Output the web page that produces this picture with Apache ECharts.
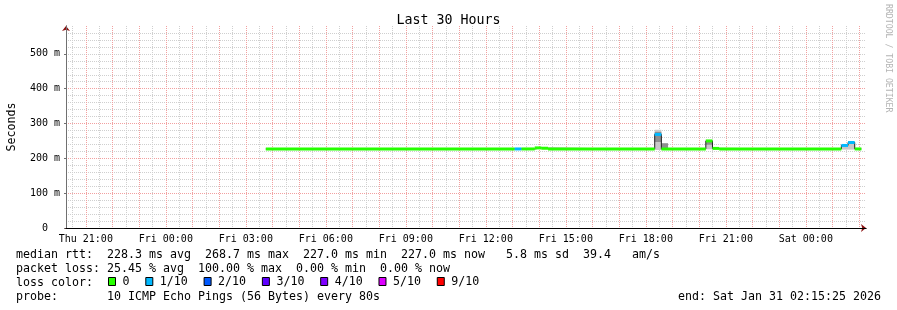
<!DOCTYPE html>
<html>
<head>
<meta charset="utf-8">
<script src="https://cdn.jsdelivr.net/npm/echarts@6/dist/echarts.min.js"></script>
<style>
html,body{margin:0;padding:0;background:#ffffff;}
#chart{width:897px;height:310px;}
</style>
</head>
<body>
<div id="chart"></div>
<script>
// ---- DATA (x values are hours since Thu 00:00) ----
const xStart = 20.2569;   // Thu 20:15:25
const xEnd = 50.2569;     // Sat 02:15:25
const xLabelHours = [21, 24, 27, 30, 33, 36, 39, 42, 45, 48];
const xLabelTexts = ['Thu 21:00', 'Fri 00:00', 'Fri 03:00', 'Fri 06:00', 'Fri 09:00',
                     'Fri 12:00', 'Fri 15:00', 'Fri 18:00', 'Fri 21:00', 'Sat 00:00'];
const xMajorHours = [21, 22, 23, 24, 25, 26, 27, 28, 29, 30, 31, 32, 33, 34, 35, 36, 37, 38, 39,
                     40, 41, 42, 43, 44, 45, 46, 47, 48, 49, 50];
const xMinorHours = [20.5, 21.5, 22.5, 23.5, 24.5, 25.5, 26.5, 27.5, 28.5, 29.5, 30.5, 31.5, 32.5,
                     33.5, 34.5, 35.5, 36.5, 37.5, 38.5, 39.5, 40.5, 41.5, 42.5, 43.5, 44.5, 45.5,
                     46.5, 47.5, 48.5, 49.5];
const yTickValues = [0, 100, 200, 300, 400, 500];
const yTickLabels = ['0  ', '100 m', '200 m', '300 m', '400 m', '500 m'];
const yMax = 580;

// median rtt (ms) per run of equal values, with loss class index
const runStart  = [27.75, 37.0833, 37.3333, 37.8333, 38.0833, 38.3333, 42.3333, 42.5833, 44.25, 44.5, 44.75, 49.3333, 49.5833, 49.8333];
const runEnd    = [37.0833, 37.3333, 37.8333, 38.0833, 38.3333, 42.3333, 42.5833, 44.25, 44.5, 44.75, 49.3333, 49.5833, 49.8333, 50.0833];
const runMedian = [227.0, 227.0, 227.0, 230.0, 229.0, 227.0, 268.7, 227.0, 250.0, 228.5, 227.0, 237.0, 245.5, 227.0];
const runLoss   = [0, 1, 0, 0, 0, 0, 1, 0, 0, 0, 0, 1, 1, 0];

// smoke (spread of the individual pings, ms)
const smokeOuterStart = [42.3333, 42.5833, 44.25, 49.3333, 49.5833];
const smokeOuterEnd   = [42.5833, 42.8333, 44.5, 49.5833, 49.8333];
const smokeOuterLo    = [224, 224, 226, 225, 225];
const smokeOuterHi    = [282, 244, 252, 240, 247];
const smokeInnerStart = [42.3333, 42.5833, 44.25];
const smokeInnerEnd   = [42.5833, 42.8333, 44.5];
const smokeInnerLo    = [247, 227, 239];
const smokeInnerHi    = [276, 243, 250];

const lossNames = ['0', '1/10', '2/10', '3/10', '4/10', '5/10', '9/10'];
const lossColors = ['#26ff00', '#00b8ff', '#0059ff', '#5e00ff', '#7e00ff', '#dd00ff', '#ff0000'];

const statsLines = [
  'median rtt:  228.3 ms avg  268.7 ms max  227.0 ms min  227.0 ms now   5.8 ms sd  39.4   am/s',
  'packet loss: 25.45 % avg  100.00 % max  0.00 % min  0.00 % now',
  'loss color:',
  'probe:       10 ICMP Echo Pings (56 Bytes) every 80s'
];
const endText = 'end: Sat Jan 31 02:15:25 2026';
const titleText = 'Last 30 Hours';
const watermark = 'RRDTOOL / TOBI OETIKER';

// ---- CHART ----
const MONO = '"DejaVu Sans Mono", monospace';
const TXT = 11.63;

const smokeOuter = smokeOuterStart.map((s, i) => [s, smokeOuterEnd[i], smokeOuterLo[i], smokeOuterHi[i]]);
const smokeInner = smokeInnerStart.map((s, i) => [s, smokeInnerEnd[i], smokeInnerLo[i], smokeInnerHi[i]]);
const medianLine = runStart.map((s, i) => [s, runMedian[i]]);
medianLine.push([runEnd[runEnd.length - 1], runMedian[runMedian.length - 1]]);

function smokeRender(params, api) {
  const p1 = api.coord([api.value(0), api.value(3)]);
  const p2 = api.coord([api.value(1), api.value(2)]);
  return {
    type: 'rect',
    shape: { x: p1[0], y: p1[1], width: p2[0] - p1[0], height: p2[1] - p1[1] },
    style: { fill: api.visual('color') }
  };
}
function lossRender(params, api) {
  const p1 = api.coord([api.value(0), api.value(2)]);
  const p2 = api.coord([api.value(1), api.value(2)]);
  return {
    type: 'line',
    shape: { x1: p1[0], y1: p1[1], x2: p2[0], y2: p2[1] },
    style: { stroke: api.visual('color'), lineWidth: 3, lineCap: 'butt' }
  };
}
// vertical grid line through the x scale, snapped to a pixel column
function vGridRender(params, api) {
  const cs = params.coordSys;
  const x = Math.round(api.coord([api.value(0), 0])[0]) + 0.5;
  return {
    type: 'line',
    shape: { x1: x, y1: cs.y, x2: x, y2: cs.y + cs.height },
    style: { stroke: api.visual('color'), lineWidth: 1, lineDash: [1, 1] }
  };
}

const series = [
  { type: 'custom', name: 'gridMinor', data: xMinorHours.map(h => [h]), renderItem: vGridRender,
    encode: { x: 0 }, itemStyle: { color: '#cfcfcf' }, z: 1, silent: true },
  { type: 'custom', name: 'gridMajor', data: xMajorHours.map(h => [h]), renderItem: vGridRender,
    encode: { x: 0 }, itemStyle: { color: '#f2a0a0' }, z: 1, silent: true },
  { type: 'custom', name: 'smoke', data: smokeOuter, renderItem: smokeRender, encode: { x: [0, 1], y: [2, 3] },
    itemStyle: { color: '#c8c8c8' }, z: 3, silent: true },
  { type: 'custom', name: 'smoke2', data: smokeInner, renderItem: smokeRender, encode: { x: [0, 1], y: [2, 3] },
    itemStyle: { color: '#8e8e8e' }, z: 3, silent: true },
  { type: 'line', name: 'median', data: medianLine, step: 'end', showSymbol: false, symbol: 'none',
    lineStyle: { color: '#202020', width: 1 }, z: 4, silent: true }
];
lossNames.forEach((name, k) => {
  const d = [];
  runStart.forEach((s, i) => { if (runLoss[i] === k) d.push([s, runEnd[i], runMedian[i]]); });
  series.push({
    type: 'custom', name: name, data: d, renderItem: lossRender, encode: { x: [0, 1], y: 2 },
    itemStyle: { color: lossColors[k], borderColor: '#000', borderWidth: 1 }, z: 5, silent: true
  });
});

const graphics = [];
const lineY = [254.8, 268.8, 282.8, 296.7];
statsLines.forEach((t, i) => {
  graphics.push({ type: 'text', x: 16, y: lineY[i], silent: true,
    style: { text: t, font: TXT + 'px ' + MONO, fill: '#000', align: 'left', verticalAlign: 'middle' } });
});
graphics.push({ type: 'text', x: 881, y: lineY[3], silent: true,
  style: { text: endText, font: TXT + 'px ' + MONO, fill: '#000', align: 'right', verticalAlign: 'middle' } });
graphics.push({ type: 'text', x: 888, y: 4, rotation: -Math.PI / 2, silent: true,
  style: { text: watermark, font: '8.2px ' + MONO, fill: '#b4b4b4', align: 'left', verticalAlign: 'middle' } });

const gridLineRed = { color: '#f2a0a0', type: 'dotted', width: 1 };
const gridLineGrey = { color: '#cfcfcf', type: 'dotted', width: 1 };

const option = {
  animation: false,
  backgroundColor: '#ffffff',
  title: {
    text: titleText, left: 'center', top: 14, padding: 0,
    textStyle: { fontFamily: MONO, fontSize: 13.3, fontWeight: 'normal', color: '#000' }
  },
  legend: {
    data: lossNames, left: 108, top: 275.5, padding: 0, icon: 'rect',
    itemWidth: 7, itemHeight: 8, itemGap: 15.8, selectedMode: false,
    itemStyle: { borderColor: '#000', borderWidth: 1 },
    textStyle: { fontFamily: MONO, fontSize: TXT, color: '#000', padding: [0, 0, 0, 2] }
  },
  grid: { left: 66, right: 31, top: 26, bottom: 82, containLabel: false, outerBoundsMode: 'none' },
  xAxis: [
    {
      type: 'value', min: xStart, max: xEnd, position: 'bottom', z: 6,
      axisLine: { show: true, onZero: false, lineStyle: { color: '#000', width: 1 } },
      axisTick: { show: false },
      axisLabel: {
        show: true, customValues: xLabelHours, margin: 6, color: '#000', fontFamily: MONO, fontSize: 10,
        formatter: v => { const i = xLabelHours.indexOf(Math.round(v)); return i >= 0 ? xLabelTexts[i] : ''; }
      },
      splitLine: { show: false }
    },
    {
      type: 'value', min: xStart, max: xEnd, position: 'bottom', z: 5,
      axisLine: { show: true, onZero: false, symbol: ['none', 'arrow'], symbolSize: [6, 5], lineStyle: { color: '#8b1010' } },
      axisTick: { show: false }, axisLabel: { show: false }, splitLine: { show: false }
    }
  ],
  yAxis: [
    {
      type: 'value', min: 0, max: yMax, interval: 100, position: 'left', z: 1,
      name: 'Seconds', nameLocation: 'middle', nameGap: 48, nameRotate: 90,
      nameTextStyle: { fontFamily: MONO, fontSize: TXT, color: '#000' },
      axisLine: { show: true, onZero: false, lineStyle: { color: '#707070', width: 1 } },
      axisTick: { show: true, length: 2, customValues: yTickValues, lineStyle: { color: '#707070' } },
      axisLabel: {
        show: true, customValues: yTickValues, margin: 6, color: '#000', fontFamily: MONO, fontSize: 10,
        formatter: v => { const i = yTickValues.indexOf(Math.round(v)); return i >= 0 ? yTickLabels[i] : ''; }
      },
      splitLine: { show: true, showMinLine: false, showMaxLine: false, lineStyle: gridLineRed }
    },
    {
      type: 'value', min: 0, max: yMax, interval: 20, position: 'left', z: 0,
      axisLine: { show: false }, axisTick: { show: false }, axisLabel: { show: false },
      splitLine: { show: true, showMinLine: false, showMaxLine: false, lineStyle: gridLineGrey }
    },
    {
      type: 'value', min: 0, max: yMax, position: 'left', z: 0.5,
      axisLine: { show: true, onZero: false, symbol: ['none', 'arrow'], symbolSize: [6, 5], lineStyle: { color: '#8b1010' } },
      axisTick: { show: false }, axisLabel: { show: false }, splitLine: { show: false }
    }
  ],
  graphic: graphics,
  series: series
};

const chart = echarts.init(document.getElementById('chart'), null, { renderer: 'canvas' });
chart.setOption(option);
</script>
</body>
</html>
